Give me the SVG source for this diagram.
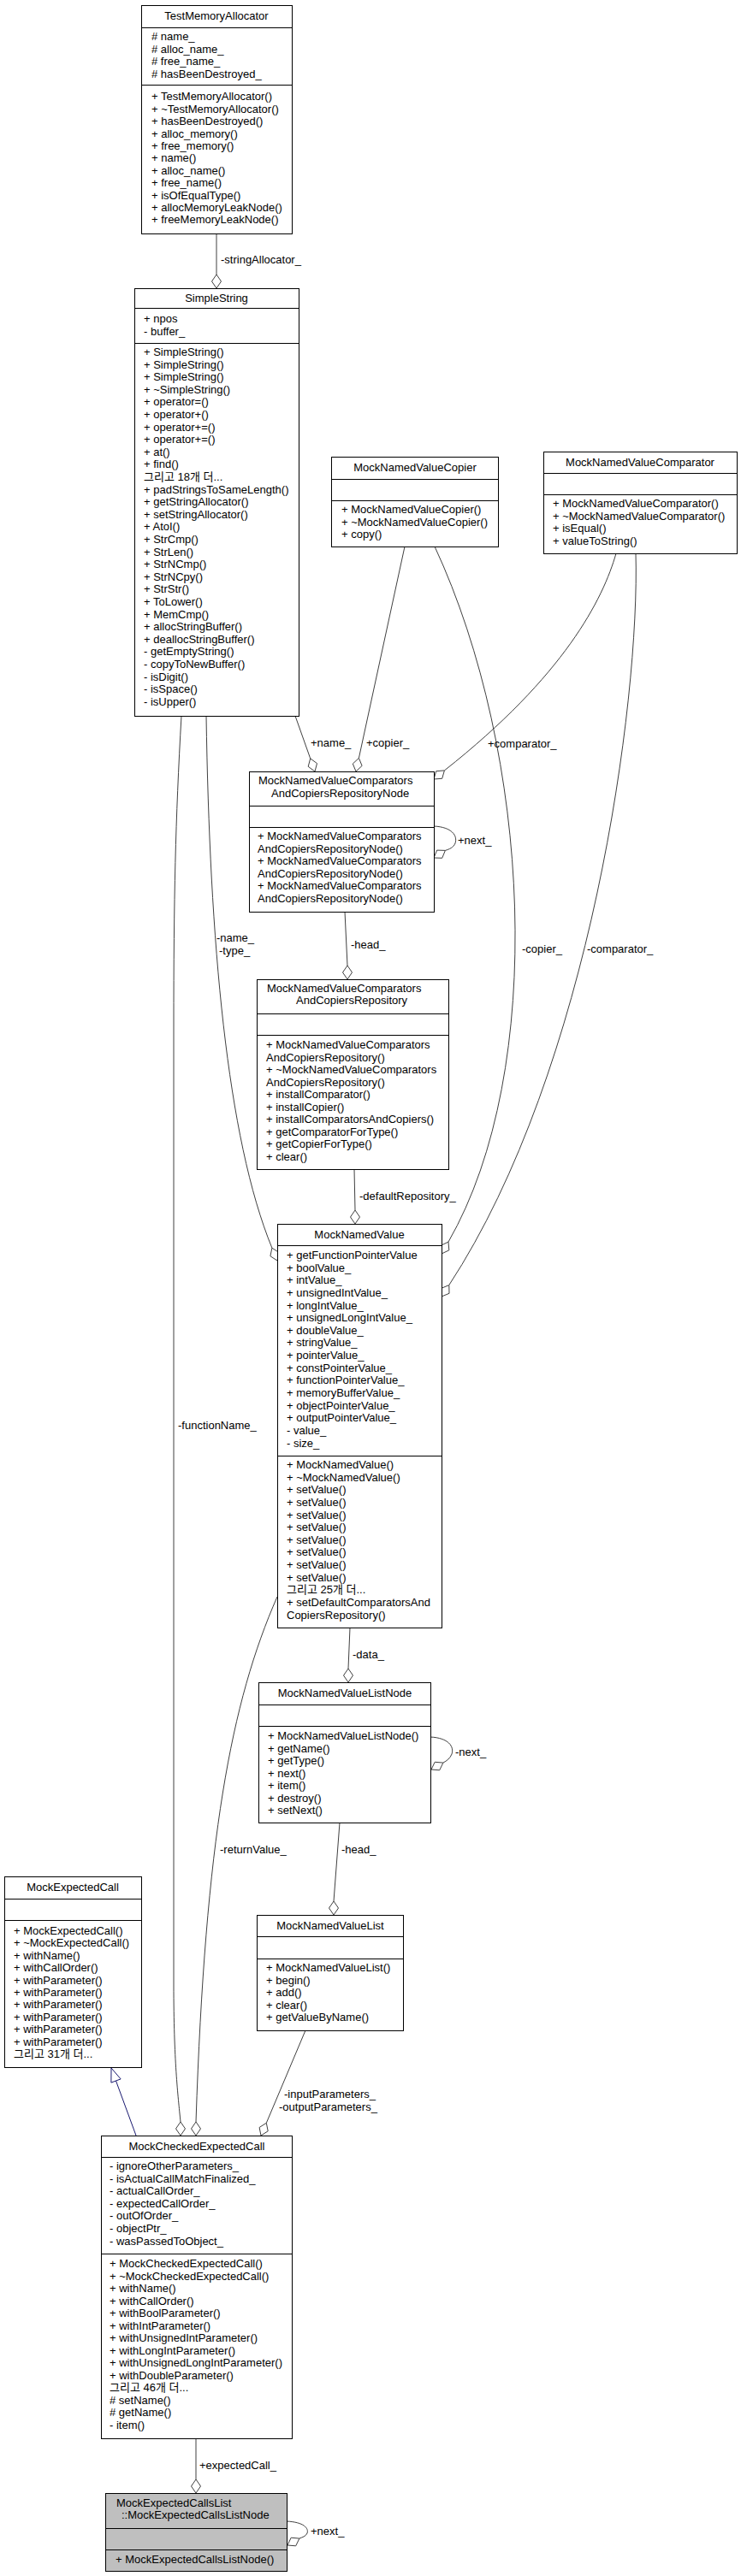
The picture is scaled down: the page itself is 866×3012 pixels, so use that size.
<svg xmlns="http://www.w3.org/2000/svg" width="866" height="3012" viewBox="0 0 866 3012">
<style>
text{font-family:"Liberation Sans","Noto Sans CJK KR",sans-serif;font-size:13px;fill:#000}
.t{text-anchor:middle}
.n rect{fill:#fff;stroke:#000;stroke-width:1}
.n path{fill:none;stroke:#000;stroke-width:1}
.g rect{fill:#bfbfbf}
.e path{fill:none;stroke:#404040;stroke-width:1}
.e polygon{fill:#fff;stroke:#404040;stroke-width:1}
.e .inh{stroke:#191970}
.e polygon.inh{fill:#fff;stroke:#191970}
</style>
<rect width="866" height="3012" fill="#fff"/>
<g id="connectors" class="e">
<path d="M253,273 L253,321"/><polygon points="253,337 258.5,329 253,321 247.5,329"/>
<path d="M345,837 L362.7,886.9"/><polygon points="368,902 370.5,892.6 362.7,886.9 360.2,896.3"/>
<path d="M473,639 L419.4,886.4"/><polygon points="416,902 423.1,895.4 419.4,886.4 412.3,893"/>
<path d="M720,647 C705,700 660,790 519.4,900.9"/><polygon points="507,911 509.7,901.7 519.4,900.9 516.7,910.3"/>
<path d="M508,639 C620,880 640,1250 524,1452.1"/><polygon points="516,1466 515.2,1456.3 524,1452.1 524.8,1461.8"/>
<path d="M743,647 C748,820 690,1250 524.8,1502.6"/><polygon points="516,1516 515.8,1506.3 524.8,1502.6 525,1512.3"/>
<path d="M403,1066 L406,1129"/><polygon points="406,1145 411.5,1137 406,1129 400.5,1137"/>
<path d="M507,966 C528,967 535,977 532,986 C530,991 525,993 520.4,994.4"/><polygon points="507,1003 510.7,994.1 520.4,994.4 516.7,1003.3"/>
<path d="M414,1367 L415,1415"/><polygon points="415,1431 420.5,1423 415,1415 409.5,1423"/>
<path d="M241,837 C245,1100 265,1330 317.9,1459.2"/><polygon points="324,1474 326.1,1464.5 317.9,1459.2 315.9,1468.7"/>
<path d="M212,837 C205,960 203,1050 203,1200 L203,2320 C203,2410 208,2450 211,2481"/><polygon points="211,2497 216.5,2489 211,2481 205.5,2489"/>
<path d="M409,1903 L407,1951"/><polygon points="407,1967 412.5,1959 407,1951 401.5,1959"/>
<path d="M503,2031 C524,2032 531,2042 528,2051 C526,2056 522,2059 517.9,2061.1"/><polygon points="504,2069 508.2,2060.3 517.9,2061.1 513.7,2069.8"/>
<path d="M397,2131 L390,2223"/><polygon points="390,2239 395.5,2231 390,2223 384.5,2231"/>
<path d="M324,1867 C270,1990 240,2150 229,2481"/><polygon points="229,2497 234.5,2489 229,2481 223.5,2489"/>
<path d="M357,2374 L311.3,2482.3"/><polygon points="305,2497 303.1,2487.5 311.3,2482.3 313.2,2491.8"/>
<path class="inh" d="M159,2497 L135.5,2433"/><polygon class="inh" points="130,2418 141.1,2430.9 129.9,2435.1"/>
<path d="M229,2851 L229,2899"/><polygon points="229,2915 234.5,2907 229,2899 223.5,2907"/>
<path d="M335,2948 C355,2949 361,2956 359,2962 C357,2966 353.5,2966.5 349.9,2968.1"/><polygon points="336,2976 340.2,2967.2 349.9,2968.1 345.7,2976.8"/>
<text x="258" y="308">-stringAllocator_</text>
<text x="363" y="873">+name_</text>
<text x="428" y="873">+copier_</text>
<text x="570" y="874">+comparator_</text>
<text x="535" y="987">+next_</text>
<text x="253" y="1101">-name_</text>
<text x="256" y="1116">-type_</text>
<text x="410" y="1109">-head_</text>
<text x="610" y="1114">-copier_</text>
<text x="686" y="1114">-comparator_</text>
<text x="420" y="1403">-defaultRepository_</text>
<text x="208" y="1671">-functionName_</text>
<text x="412" y="1939">-data_</text>
<text x="532" y="2053">-next_</text>
<text x="257" y="2167">-returnValue_</text>
<text x="399" y="2167">-head_</text>
<text x="332" y="2453">-inputParameters_</text>
<text x="326" y="2468">-outputParameters_</text>
<text x="233" y="2887">+expectedCall_</text>
<text x="363" y="2964">+next_</text>
</g>
<g id="TestMemoryAllocator" class="n">
<rect x="165.5" y="6.5" width="176" height="267"/>
<path d="M165.5 32.5H341.5M165.5 99.5H341.5"/>
<text class="t" x="253" y="23">TestMemoryAllocator</text>
<text y="47"><tspan x="177"># name_</tspan><tspan x="177" dy="14.6"># alloc_name_</tspan><tspan x="177" dy="14.6"># free_name_</tspan><tspan x="177" dy="14.6"># hasBeenDestroyed_</tspan></text>
<text y="117.3"><tspan x="177">+ TestMemoryAllocator()</tspan><tspan x="177" dy="14.4">+ ~TestMemoryAllocator()</tspan><tspan x="177" dy="14.4">+ hasBeenDestroyed()</tspan><tspan x="177" dy="14.4">+ alloc_memory()</tspan><tspan x="177" dy="14.4">+ free_memory()</tspan><tspan x="177" dy="14.4">+ name()</tspan><tspan x="177" dy="14.4">+ alloc_name()</tspan><tspan x="177" dy="14.4">+ free_name()</tspan><tspan x="177" dy="14.4">+ isOfEqualType()</tspan><tspan x="177" dy="14.4">+ allocMemoryLeakNode()</tspan><tspan x="177" dy="14.4">+ freeMemoryLeakNode()</tspan></text>
</g>
<g id="SimpleString" class="n">
<rect x="157.5" y="337.5" width="192" height="500"/>
<path d="M157.5 360.5H349.5M157.5 401.5H349.5"/>
<text class="t" x="253" y="353">SimpleString</text>
<text y="377"><tspan x="168">+ npos</tspan><tspan x="168" dy="14.6">- buffer_</tspan></text>
<text y="416"><tspan x="168">+ SimpleString()</tspan><tspan x="168" dy="14.6">+ SimpleString()</tspan><tspan x="168" dy="14.6">+ SimpleString()</tspan><tspan x="168" dy="14.6">+ ~SimpleString()</tspan><tspan x="168" dy="14.6">+ operator=()</tspan><tspan x="168" dy="14.6">+ operator+()</tspan><tspan x="168" dy="14.6">+ operator+=()</tspan><tspan x="168" dy="14.6">+ operator+=()</tspan><tspan x="168" dy="14.6">+ at()</tspan><tspan x="168" dy="14.6">+ find()</tspan><tspan x="168" dy="14.6">그리고 18개 더...</tspan><tspan x="168" dy="14.6">+ padStringsToSameLength()</tspan><tspan x="168" dy="14.6">+ getStringAllocator()</tspan><tspan x="168" dy="14.6">+ setStringAllocator()</tspan><tspan x="168" dy="14.6">+ AtoI()</tspan><tspan x="168" dy="14.6">+ StrCmp()</tspan><tspan x="168" dy="14.6">+ StrLen()</tspan><tspan x="168" dy="14.6">+ StrNCmp()</tspan><tspan x="168" dy="14.6">+ StrNCpy()</tspan><tspan x="168" dy="14.6">+ StrStr()</tspan><tspan x="168" dy="14.6">+ ToLower()</tspan><tspan x="168" dy="14.6">+ MemCmp()</tspan><tspan x="168" dy="14.6">+ allocStringBuffer()</tspan><tspan x="168" dy="14.6">+ deallocStringBuffer()</tspan><tspan x="168" dy="14.6">- getEmptyString()</tspan><tspan x="168" dy="14.6">- copyToNewBuffer()</tspan><tspan x="168" dy="14.6">- isDigit()</tspan><tspan x="168" dy="14.6">- isSpace()</tspan><tspan x="168" dy="14.6">- isUpper()</tspan></text>
</g>
<g id="MockNamedValueCopier" class="n">
<rect x="387.5" y="534.5" width="195" height="105"/>
<path d="M387.5 560.5H582.5M387.5 585.5H582.5"/>
<text class="t" x="485" y="551">MockNamedValueCopier</text>
<text y="600"><tspan x="399">+ MockNamedValueCopier()</tspan><tspan x="399" dy="14.5">+ ~MockNamedValueCopier()</tspan><tspan x="399" dy="14.5">+ copy()</tspan></text>
</g>
<g id="MockNamedValueComparator" class="n">
<rect x="635.5" y="528.5" width="226" height="119"/>
<path d="M635.5 553.5H861.5M635.5 578.5H861.5"/>
<text class="t" x="748" y="545">MockNamedValueComparator</text>
<text y="593"><tspan x="646">+ MockNamedValueComparator()</tspan><tspan x="646" dy="14.5">+ ~MockNamedValueComparator()</tspan><tspan x="646" dy="14.5">+ isEqual()</tspan><tspan x="646" dy="14.5">+ valueToString()</tspan></text>
</g>
<g id="MockNamedValueComparatorsAndCopiersRepositoryNode" class="n">
<rect x="291.5" y="902.5" width="216" height="164"/>
<path d="M291.5 942.5H507.5M291.5 967.5H507.5"/>
<text x="302" y="917">MockNamedValueComparators</text>
<text x="317" y="932">AndCopiersRepositoryNode</text>
<text y="982"><tspan x="301">+ MockNamedValueComparators</tspan><tspan x="301" dy="14.5">AndCopiersRepositoryNode()</tspan><tspan x="301" dy="14.5">+ MockNamedValueComparators</tspan><tspan x="301" dy="14.5">AndCopiersRepositoryNode()</tspan><tspan x="301" dy="14.5">+ MockNamedValueComparators</tspan><tspan x="301" dy="14.5">AndCopiersRepositoryNode()</tspan></text>
</g>
<g id="MockNamedValueComparatorsAndCopiersRepository" class="n">
<rect x="300.5" y="1145.5" width="224" height="222"/>
<path d="M300.5 1185.5H524.5M300.5 1210.5H524.5"/>
<text x="312" y="1160">MockNamedValueComparators</text>
<text x="346" y="1174">AndCopiersRepository</text>
<text y="1226"><tspan x="311">+ MockNamedValueComparators</tspan><tspan x="311" dy="14.5">AndCopiersRepository()</tspan><tspan x="311" dy="14.5">+ ~MockNamedValueComparators</tspan><tspan x="311" dy="14.5">AndCopiersRepository()</tspan><tspan x="311" dy="14.5">+ installComparator()</tspan><tspan x="311" dy="14.5">+ installCopier()</tspan><tspan x="311" dy="14.5">+ installComparatorsAndCopiers()</tspan><tspan x="311" dy="14.5">+ getComparatorForType()</tspan><tspan x="311" dy="14.5">+ getCopierForType()</tspan><tspan x="311" dy="14.5">+ clear()</tspan></text>
</g>
<g id="MockNamedValue" class="n">
<rect x="324.5" y="1431.5" width="192" height="472"/>
<path d="M324.5 1456.5H516.5M324.5 1702.5H516.5"/>
<text class="t" x="420" y="1448">MockNamedValue</text>
<text y="1472"><tspan x="335">+ getFunctionPointerValue</tspan><tspan x="335" dy="14.64">+ boolValue_</tspan><tspan x="335" dy="14.64">+ intValue_</tspan><tspan x="335" dy="14.64">+ unsignedIntValue_</tspan><tspan x="335" dy="14.64">+ longIntValue_</tspan><tspan x="335" dy="14.64">+ unsignedLongIntValue_</tspan><tspan x="335" dy="14.64">+ doubleValue_</tspan><tspan x="335" dy="14.64">+ stringValue_</tspan><tspan x="335" dy="14.64">+ pointerValue_</tspan><tspan x="335" dy="14.64">+ constPointerValue_</tspan><tspan x="335" dy="14.64">+ functionPointerValue_</tspan><tspan x="335" dy="14.64">+ memoryBufferValue_</tspan><tspan x="335" dy="14.64">+ objectPointerValue_</tspan><tspan x="335" dy="14.64">+ outputPointerValue_</tspan><tspan x="335" dy="14.64">- value_</tspan><tspan x="335" dy="14.64">- size_</tspan></text>
<text y="1717"><tspan x="335">+ MockNamedValue()</tspan><tspan x="335" dy="14.64">+ ~MockNamedValue()</tspan><tspan x="335" dy="14.64">+ setValue()</tspan><tspan x="335" dy="14.64">+ setValue()</tspan><tspan x="335" dy="14.64">+ setValue()</tspan><tspan x="335" dy="14.64">+ setValue()</tspan><tspan x="335" dy="14.64">+ setValue()</tspan><tspan x="335" dy="14.64">+ setValue()</tspan><tspan x="335" dy="14.64">+ setValue()</tspan><tspan x="335" dy="14.64">+ setValue()</tspan><tspan x="335" dy="14.64">그리고 25개 더...</tspan><tspan x="335" dy="14.64">+ setDefaultComparatorsAnd</tspan><tspan x="335" dy="14.64">CopiersRepository()</tspan></text>
</g>
<g id="MockNamedValueListNode" class="n">
<rect x="302.5" y="1967.5" width="201" height="164"/>
<path d="M302.5 1993.5H503.5M302.5 2018.5H503.5"/>
<text class="t" x="403" y="1984">MockNamedValueListNode</text>
<text y="2034"><tspan x="313">+ MockNamedValueListNode()</tspan><tspan x="313" dy="14.5">+ getName()</tspan><tspan x="313" dy="14.5">+ getType()</tspan><tspan x="313" dy="14.5">+ next()</tspan><tspan x="313" dy="14.5">+ item()</tspan><tspan x="313" dy="14.5">+ destroy()</tspan><tspan x="313" dy="14.5">+ setNext()</tspan></text>
</g>
<g id="MockNamedValueList" class="n">
<rect x="300.5" y="2239.5" width="171" height="135"/>
<path d="M300.5 2264.5H471.5M300.5 2290.5H471.5"/>
<text class="t" x="386" y="2256">MockNamedValueList</text>
<text y="2305"><tspan x="311">+ MockNamedValueList()</tspan><tspan x="311" dy="14.5">+ begin()</tspan><tspan x="311" dy="14.5">+ add()</tspan><tspan x="311" dy="14.5">+ clear()</tspan><tspan x="311" dy="14.5">+ getValueByName()</tspan></text>
</g>
<g id="MockExpectedCall" class="n">
<rect x="5.5" y="2194.5" width="160" height="223"/>
<path d="M5.5 2220.5H165.5M5.5 2245.5H165.5"/>
<text class="t" x="85" y="2211">MockExpectedCall</text>
<text y="2262"><tspan x="16">+ MockExpectedCall()</tspan><tspan x="16" dy="14.4">+ ~MockExpectedCall()</tspan><tspan x="16" dy="14.4">+ withName()</tspan><tspan x="16" dy="14.4">+ withCallOrder()</tspan><tspan x="16" dy="14.4">+ withParameter()</tspan><tspan x="16" dy="14.4">+ withParameter()</tspan><tspan x="16" dy="14.4">+ withParameter()</tspan><tspan x="16" dy="14.4">+ withParameter()</tspan><tspan x="16" dy="14.4">+ withParameter()</tspan><tspan x="16" dy="14.4">+ withParameter()</tspan><tspan x="16" dy="14.4">그리고 31개 더...</tspan></text>
</g>
<g id="MockCheckedExpectedCall" class="n">
<rect x="118.5" y="2497.5" width="223" height="354"/>
<path d="M118.5 2522.5H341.5M118.5 2635.5H341.5"/>
<text class="t" x="230" y="2514">MockCheckedExpectedCall</text>
<text y="2537"><tspan x="128">- ignoreOtherParameters_</tspan><tspan x="128" dy="14.6">- isActualCallMatchFinalized_</tspan><tspan x="128" dy="14.6">- actualCallOrder_</tspan><tspan x="128" dy="14.6">- expectedCallOrder_</tspan><tspan x="128" dy="14.6">- outOfOrder_</tspan><tspan x="128" dy="14.6">- objectPtr_</tspan><tspan x="128" dy="14.6">- wasPassedToObject_</tspan></text>
<text y="2651"><tspan x="128">+ MockCheckedExpectedCall()</tspan><tspan x="128" dy="14.5">+ ~MockCheckedExpectedCall()</tspan><tspan x="128" dy="14.5">+ withName()</tspan><tspan x="128" dy="14.5">+ withCallOrder()</tspan><tspan x="128" dy="14.5">+ withBoolParameter()</tspan><tspan x="128" dy="14.5">+ withIntParameter()</tspan><tspan x="128" dy="14.5">+ withUnsignedIntParameter()</tspan><tspan x="128" dy="14.5">+ withLongIntParameter()</tspan><tspan x="128" dy="14.5">+ withUnsignedLongIntParameter()</tspan><tspan x="128" dy="14.5">+ withDoubleParameter()</tspan><tspan x="128" dy="14.5">그리고 46개 더...</tspan><tspan x="128" dy="14.5"># setName()</tspan><tspan x="128" dy="14.5"># getName()</tspan><tspan x="128" dy="14.5">- item()</tspan></text>
</g>
<g id="MockExpectedCallsListNode" class="n g">
<rect x="123.5" y="2915.5" width="212" height="91"/>
<path d="M123.5 2956.5H335.5M123.5 2981.5H335.5"/>
<text x="136" y="2930.5">MockExpectedCallsList</text>
<text x="142" y="2945">::MockExpectedCallsListNode</text>
<text x="135" y="2997">+ MockExpectedCallsListNode()</text>
</g>
</svg>
